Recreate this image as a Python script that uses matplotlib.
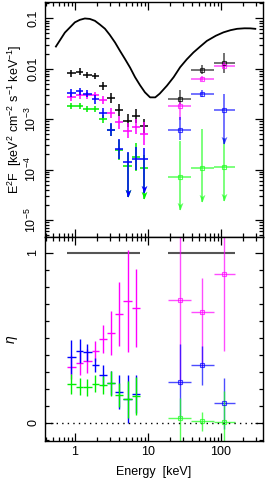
import numpy as np
import matplotlib.pyplot as plt
from matplotlib.ticker import FixedLocator, NullFormatter, LogLocator, MultipleLocator

plt.rcParams['font.family'] = ['Liberation Sans', 'DejaVu Sans']
plt.rcParams['mathtext.fontset'] = 'custom'
plt.rcParams['mathtext.rm'] = 'Liberation Sans'
plt.rcParams['mathtext.it'] = 'Liberation Sans:italic'

# energy bin edges [keV]
low_edges = [0.78, 1.03, 1.30, 1.69, 2.16, 2.72, 3.55, 4.61, 6.0, 7.8, 9.9]
high_edges = [19.0, 39.0, 79.0, 157.0]

# model curve (E, E^2F)
model_e = [0.55, 0.73, 1.0, 1.17, 1.37, 1.6, 1.88, 2.2, 2.58, 3.0, 3.55, 4.15,
           4.86, 5.7, 6.66, 7.8, 9.1, 10.7, 12.6, 14.5, 18.2, 22.5, 27.6, 34.0,
           42.0, 52.0, 64.0, 85.0, 108.0, 135.0, 166.0, 210.0, 253.0, 295.0]
model_f = [0.0275, 0.052, 0.083, 0.093, 0.099, 0.097, 0.089, 0.075, 0.062,
           0.047, 0.033, 0.0225, 0.0155, 0.0105, 0.0068, 0.0047, 0.0034,
           0.0027, 0.0027, 0.0032, 0.0046, 0.0068, 0.0107, 0.0153, 0.021,
           0.0275, 0.0355, 0.045, 0.0525, 0.058, 0.0617, 0.0632, 0.063, 0.0617]

# E^2F spectra, low-energy bins
black_low = [8.2e-3, 8.7e-3, 7.6e-3, 7.1e-3, 4.6e-3, 2.6e-3, 1.5e-3, 9.3e-4, 1.15e-3, 7.4e-4]
black_low_err = [0.07, 0.07, 0.06, 0.06, 0.08, 0.10, 0.12, 0.13, 0.14, 0.14]
magenta_low = [2.7e-3, 3.0e-3, 2.95e-3, 3.0e-3, 2.35e-3, 1.35e-3, 8.7e-4, 5.9e-4, 7.1e-4, 5.1e-4]
magenta_low_err = [0.07, 0.07, 0.07, 0.07, 0.08, 0.10, 0.13, 0.15, 0.15, 0.23]
blue_low = [3.3e-3, 3.6e-3, 3.2e-3, 2.45e-3, 1.3e-3, 6.2e-4, 2.6e-4, 1.4e-4, 1.65e-4, 1.6e-4]
blue_low_err = [0.07, 0.07, 0.07, 0.08, 0.10, 0.13, 0.20, 0.20, 0.22, 0.23]
green_low = [1.85e-3, 1.8e-3, 1.6e-3, 1.6e-3, 1.0e-3, 6.0e-4, 2.45e-4, 1.2e-4, 1.75e-4, 1.07e-4]
green_low_err = [0.06, 0.06, 0.06, 0.06, 0.08, 0.12, 0.20, 0.24, 0.28, 0.25]
# upper-limit arrow tips (None = normal point)
blue_low_tip = [None] * 7 + [2.8e-5, None, 3.5e-5]
green_low_tip = [None] * 7 + [2.8e-5, None, 2.6e-5]

# E^2F spectra, high-energy bins
black_high = [2.5e-3, 9.5e-3, 1.3e-2]
black_high_up = [0.18, 0.09, 0.19]
black_high_dn = [0.10, 0.09, 0.20]
magenta_high = [1.8e-3, 6.3e-3, 1.15e-2]
magenta_high_up = [0.08, 0.05, 0.07]
magenta_high_dn = [0.28, 0.05, 0.07]
blue_high = [6.2e-4, 3.2e-3, 1.5e-3]
blue_high_up = [0.25, 0.07, 0.32]
blue_high_dn = [0.21, 0.07, 0.0]
blue_high_tip = [None, None, 3.2e-4]
green_high = [7.1e-5, 1.07e-4, 1.12e-4]
green_high_up = [0.72, 0.78, 0.58]
green_high_tip = [1.55e-5, 2.25e-5, 2.4e-5]

# eta, low-energy bins (first 9)
eta_black_low = [1.0] * 9
eta_magenta_low = [0.33, 0.35, 0.366, 0.425, 0.494, 0.527, 0.64, 0.718, 0.675]
eta_magenta_low_err = [0.07, 0.07, 0.07, 0.06, 0.085, 0.13, 0.19, 0.30, 0.23]
eta_blue_low = [0.39, 0.425, 0.416, 0.34, 0.28, 0.233, 0.184, 0.14, 0.17]
eta_blue_low_err = [0.10, 0.07, 0.05, 0.04, 0.06, 0.07, 0.10, 0.14, 0.11]
eta_green_low = [0.23, 0.214, 0.21, 0.23, 0.224, 0.233, 0.165, 0.139, 0.159]
eta_green_low_err = [0.06, 0.05, 0.05, 0.05, 0.055, 0.075, 0.07, 0.11, 0.11]

# eta, high-energy bins
eta_black_high = [1.0, 1.0, 1.0]
eta_magenta_high = [0.724, 0.65, 0.875]
eta_magenta_high_up = [0.5, 0.2, 0.4]
eta_magenta_high_dn = [0.5, 0.32, 0.45]
eta_blue_high = [0.243, 0.34, 0.116]
eta_blue_high_err = [0.22, 0.115, 0.15]
eta_green_high = [0.028, 0.012, 0.008]
eta_green_high_up = [0.12, 0.055, 0.18]
eta_green_high_dn = [0.15, 0.06, 0.15]

BLACK, MAGENTA, BLUE, GREEN = '#000000', '#ff00ff', '#0000ff', '#00ee00'
ARROW = [(-0.38, 1.0), (0.0, 0.0), (0.38, 1.0), (0.0, 0.72)]


def centers(edges, n):
    e = np.array(edges)
    c = np.sqrt(e[:-1] * e[1:])
    return c[:n], np.vstack([c - e[:-1], e[1:] - c])[:, :n]


def log_points(ax, edges, y, up, dn, color, tips=None, square=False, alpha=1.0):
    n = len(y)
    x, xerr = centers(edges, n)
    y = np.array(y, dtype=float)
    up = np.array(up, dtype=float)
    dn = np.array(dn, dtype=float)
    lo = y - y / 10 ** dn
    hi = y * 10 ** up - y
    if tips is not None:
        for i, t in enumerate(tips):
            if t is not None:
                lo[i] = y[i] - t
    ax.errorbar(x, y, xerr=xerr, yerr=[lo, hi], fmt='s' if square else 'none',
                ms=3.5, mfc='none', mec=color, mew=0.8, ecolor=color,
                elinewidth=1.1, capsize=0, alpha=alpha)
    if tips is not None:
        for i, t in enumerate(tips):
            if t is not None:
                ax.plot(x[i], t, marker=ARROW, ms=11, color=color, mew=0,
                        alpha=alpha)


def lin_points(ax, edges, y, up, dn, color, square=False, alpha=1.0, lw=1.0):
    n = len(y)
    x, xerr = centers(edges, n)
    ax.errorbar(x, y, xerr=xerr, yerr=[dn, up], fmt='s' if square else 'none',
                ms=3.5, mfc='none', mec=color, mew=0.8, ecolor=color,
                elinewidth=lw, capsize=0, alpha=alpha)


fig = plt.figure(figsize=(2.65, 4.91), dpi=100)
ax1 = fig.add_axes([45 / 265, 1 - 237 / 491, 218 / 265, 235 / 491])
ax2 = fig.add_axes([45 / 265, 1 - 441 / 491, 218 / 265, 204 / 491])

# ---- top panel
ax1.plot(model_e, model_f, color='k', lw=1.3)
log_points(ax1, low_edges, black_low, black_low_err, black_low_err, BLACK)
log_points(ax1, low_edges, magenta_low, magenta_low_err, magenta_low_err, MAGENTA)
log_points(ax1, low_edges, green_low, green_low_err, green_low_err, GREEN, tips=green_low_tip)
log_points(ax1, low_edges, blue_low, blue_low_err, blue_low_err, BLUE, tips=blue_low_tip)

log_points(ax1, high_edges, black_high, black_high_up, black_high_dn, BLACK, square=True, alpha=0.7)
log_points(ax1, high_edges, magenta_high, magenta_high_up, magenta_high_dn, MAGENTA, square=True, alpha=0.7)
log_points(ax1, high_edges, green_high, green_high_up, [0, 0, 0], '#22ff22', tips=green_high_tip, square=True, alpha=0.75)
log_points(ax1, high_edges, blue_high, blue_high_up, blue_high_dn, BLUE, tips=blue_high_tip, square=True, alpha=0.7)

ax1.set_xscale('log')
ax1.set_yscale('log')
ax1.set_xlim(0.39, 376)
ax1.set_ylim(4.6e-6, 0.21)
ax1.yaxis.set_major_locator(FixedLocator([1e-5, 1e-4, 1e-3, 1e-2, 1e-1]))
ax1.set_yticklabels(['$10^{-5}$', '$10^{-4}$', '$10^{-3}$', '0.01', '0.1'])
ax1.yaxis.set_minor_locator(LogLocator(base=10, subs=np.arange(2, 10), numticks=20))
ax1.yaxis.set_minor_formatter(NullFormatter())
ax1.xaxis.set_major_formatter(NullFormatter())
ax1.xaxis.set_minor_formatter(NullFormatter())
ax1.set_ylabel('E$^2$F  [keV$^2$ cm$^{-2}$ s$^{-1}$ keV$^{-1}$]', fontsize=9, labelpad=0)

# ---- bottom panel
lin_points(ax2, low_edges, eta_black_low, [0] * 9, [0] * 9, '#555555', lw=1.5)
lin_points(ax2, high_edges, eta_black_high, [0] * 3, [0] * 3, '#555555', lw=1.5)
lin_points(ax2, low_edges, eta_magenta_low, eta_magenta_low_err, eta_magenta_low_err, MAGENTA)
lin_points(ax2, low_edges, eta_blue_low, eta_blue_low_err, eta_blue_low_err, BLUE)
lin_points(ax2, low_edges, eta_green_low, eta_green_low_err, eta_green_low_err, GREEN)
lin_points(ax2, high_edges, eta_magenta_high, eta_magenta_high_up, eta_magenta_high_dn, MAGENTA, square=True, alpha=0.7)
lin_points(ax2, high_edges, eta_blue_high, eta_blue_high_err, eta_blue_high_err, BLUE, square=True, alpha=0.7)
lin_points(ax2, high_edges, eta_green_high, eta_green_high_up, eta_green_high_dn, '#22ff22', square=True, alpha=0.75)
ax2.axhline(0, color='k', ls=(0, (1, 3)), lw=1.0)

ax2.set_xscale('log')
ax2.set_xlim(0.39, 376)
ax2.set_ylim(-0.106, 1.094)
ax2.yaxis.set_major_locator(FixedLocator([0, 1]))
ax2.yaxis.set_minor_locator(MultipleLocator(0.1))
ax2.set_xticks([1, 10, 100])
ax2.set_xticklabels(['1', '10', '100'])
ax2.xaxis.set_minor_formatter(NullFormatter())
ax2.set_xlabel('Energy  [keV]', fontsize=9, labelpad=6)
ax2.set_ylabel('$\\eta$', fontsize=10, labelpad=5)

for ax in (ax1, ax2):
    ax.tick_params(which='both', direction='in', top=True, right=True, labelsize=9, width=0.9)
    ax.tick_params(which='major', length=6)
    ax.tick_params(which='minor', length=3)
    ax.tick_params(axis='y', pad=4)
    for lab in ax.get_yticklabels():
        lab.set_rotation(90)
        lab.set_va('center')
    for s in ax.spines.values():
        s.set_linewidth(1.0)

fig.savefig('out.png', dpi=100)
